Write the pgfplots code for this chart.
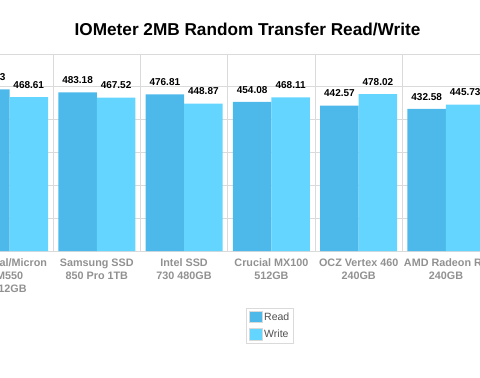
\documentclass[border=0pt]{standalone}
\usepackage{fontspec}
\setmainfont{Liberation Sans}
\usepackage{pgfplots}
\pgfplotsset{compat=1.18}
\definecolor{readc}{RGB}{77,185,235}
\definecolor{writec}{RGB}{99,213,255}
\definecolor{gridc}{RGB}{218,218,218}
\definecolor{labc}{RGB}{145,145,145}
\definecolor{legc}{RGB}{80,80,80}
\begin{document}
\begin{tikzpicture}
\path[use as bounding box] (0,0) rectangle (480pt,378pt);
\clip (0,0) rectangle (480pt,378pt);
\node[anchor=base, font=\bfseries\fontsize{17.2}{20}\selectfont] at (247.5pt,342.6pt) {IOMeter 2MB Random Transfer Read/Write};
\begin{axis}[
  at={(0pt,127pt)}, anchor=south west,
  scale only axis, width=480pt, height=197pt,
  xmin=-0.109, xmax=5.39, ymin=0, ymax=600,
  ytick={0,100,...,600}, yticklabels={},
  ymajorgrids, grid style={gridc, line width=0.8pt},
  xtick={0,...,5},
  xticklabels={{Crucial/Micron\\M550\\512GB},{Samsung SSD\\850 Pro 1TB},{Intel SSD\\730 480GB},{Crucial MX100\\512GB},{OCZ Vertex 460\\240GB},{AMD Radeon R7\\240GB}},
  minor xtick={-0.5,0.5,...,5.5}, xminorgrids, minor grid style={gridc, line width=0.8pt},
  major tick length=0pt, minor tick length=0pt,
  axis line style={draw=none},
  xticklabel style={font=\bfseries\fontsize{10.8}{13.2}\selectfont, text=labc, align=center, yshift=-4pt},
  ybar, bar width=0.441,
  nodes near coords,
  nodes near coords style={font=\bfseries\fontsize{10}{11}\selectfont, anchor=south, inner sep=0pt, yshift=8.5pt, text=black},
  /pgf/number format/fixed, /pgf/number format/fixed zerofill, /pgf/number format/precision=2,
  /pgf/number format/1000 sep={}, /pgf/number format/assume math mode=true,
  legend style={at={(0.5625,-0.3797)}, anchor=center, draw=gridc, line width=0.8pt, font=\fontsize{10.5}{12}\selectfont, text=legc, row sep=4pt, inner sep=2.5pt},
  legend cell align=left,
  legend image code/.code={\draw[#1, draw=black!15, line width=0.5pt] (0pt,-5.5pt) rectangle (13pt,6pt);},
]
\addplot[fill=readc, draw=none, bar shift=-0.2205] coordinates {(0,492.53) (1,483.18) (2,476.81) (3,454.08) (4,442.57) (5,432.58)};
\addlegendentry{Read}
\addplot[fill=writec, draw=none, bar shift=0.2205] coordinates {(0,468.61) (1,467.52) (2,448.87) (3,468.11) (4,478.02) (5,445.73)};
\addlegendentry{Write}
\end{axis}
\end{tikzpicture}
\end{document}
